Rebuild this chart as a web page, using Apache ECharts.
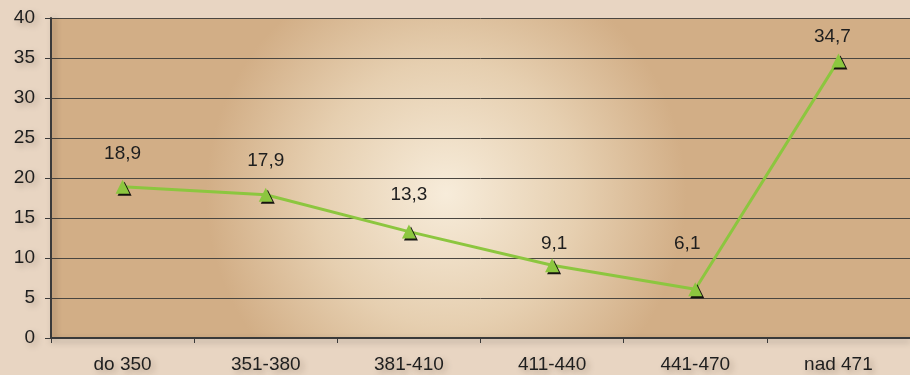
<!DOCTYPE html>
<html>
<head>
  <meta charset="utf-8">
  <title>Line chart</title>
  <script src="https://cdn.jsdelivr.net/npm/echarts/dist/echarts.min.js"></script>
  <style>
    html, body { margin: 0; padding: 0; background: #e8d5c2; }
    #chart { width: 910px; height: 375px; }
  </style>
</head>
<body>
  <div id="chart"></div>
  <script>
    // data
    var categories = ['do 350', '351-380', '381-410', '411-440', '441-470', 'nad 471'];
    var values = [18.9, 17.9, 13.3, 9.1, 6.1, 34.7];

    // label placement tweaks (px), Excel put them unevenly
    var labelShift = [[0, 0], [0, -1], [0, -3], [2, 12], [-8, -12], [-6, 10]];

    var myChart = echarts.init(document.getElementById('chart'));

    var fontFam = '"Liberation Sans", Arial, sans-serif';
    var textShadow = {
      textShadowColor: 'rgba(60,40,20,0.35)',
      textShadowBlur: 6,
      textShadowOffsetX: 3,
      textShadowOffsetY: 3
    };

    var seriesData = values.map(function (v, i) {
      return {
        value: v,
        label: { offset: labelShift[i] }
      };
    });

    var option = {
      backgroundColor: '#e8d5c2',
      animation: false,
      grid: {
        left: 51, top: 18, right: 0, bottom: 37,
        show: true,
        borderWidth: 0,
        backgroundColor: {
          type: 'radial', x: 0.46, y: 0.55, r: 0.75,
          colorStops: [
            { offset: 0, color: '#f7ecda' },
            { offset: 0.55, color: '#e6cfb0' },
            { offset: 1, color: '#d2ae86' }
          ]
        }
      },
      xAxis: {
        type: 'category',
        data: categories,
        boundaryGap: true,
        axisLine: { lineStyle: { color: '#3a3a3a', width: 2, shadowColor: 'rgba(0,0,0,0.3)', shadowBlur: 6, shadowOffsetY: 3 } },
        axisTick: { show: true, length: 5, lineStyle: { color: '#3a3a3a' } },
        axisLabel: Object.assign({
          color: '#1e1e1e', fontSize: 19, fontFamily: fontFam, margin: 17
        }, textShadow),
        splitLine: { show: false }
      },
      yAxis: {
        type: 'value',
        min: 0, max: 40, interval: 5,
        axisLine: { show: true, lineStyle: { color: '#3a3a3a', width: 2, shadowColor: 'rgba(0,0,0,0.3)', shadowBlur: 6, shadowOffsetX: 3 } },
        axisTick: { show: true, length: 6, lineStyle: { color: '#3a3a3a' } },
        axisLabel: Object.assign({
          color: '#1e1e1e', fontSize: 19, fontFamily: fontFam, margin: 16
        }, textShadow),
        splitLine: { show: true, lineStyle: { color: '#4a4640', width: 1 } }
      },
      series: [{
        type: 'line',
        data: seriesData,
        symbol: 'triangle',
        symbolSize: 14,
        lineStyle: { color: '#8cc63f', width: 3 },
        itemStyle: {
          color: '#8cc63f',
          shadowColor: 'rgba(0,0,0,0.9)',
          shadowBlur: 0,
          shadowOffsetX: 2,
          shadowOffsetY: 2
        },
        label: {
          show: true,
          position: 'top',
          distance: 17,
          color: '#1e1e1e',
          fontSize: 19,
          fontFamily: fontFam,
          formatter: function (p) { return String(p.value).replace('.', ','); }
        }
      }]
    };

    myChart.setOption(option);
  </script>
</body>
</html>
